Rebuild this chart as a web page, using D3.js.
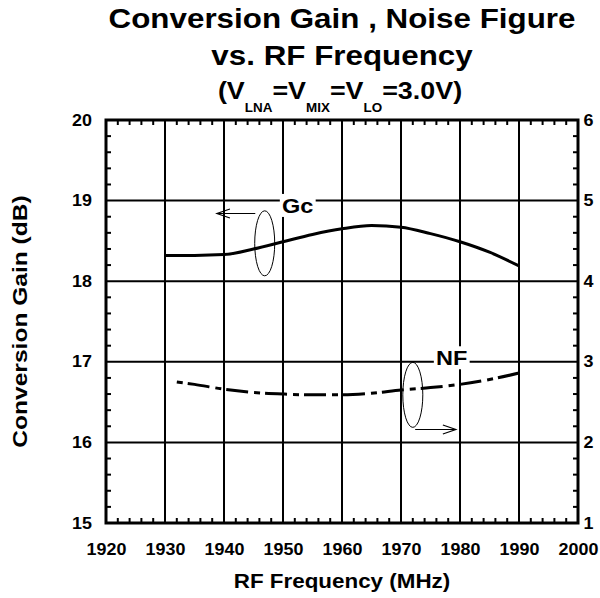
<!DOCTYPE html>
<html>
<head>
<meta charset="utf-8">
<script src="https://cdn.jsdelivr.net/npm/d3@7"></script>
<style>
  html, body { margin: 0; padding: 0; background: #fff; }
  svg { display: block; font-family: "Liberation Sans", Arial, Helvetica, sans-serif; font-weight: bold; }
</style>
</head>
<body>
<svg id="chart" width="600" height="598"></svg>
<script>
// Frequency axis (MHz)
const freqTicks = [1920, 1930, 1940, 1950, 1960, 1970, 1980, 1990, 2000];
// Left axis: conversion gain (dB)
const gainTicks = [15, 16, 17, 18, 19, 20];
// Right axis: noise figure (dB)
const nfTicks = [1, 2, 3, 4, 5, 6];

// Conversion gain curve
const gcFreq   = [1930, 1935, 1940, 1945, 1950, 1955, 1960, 1965, 1970, 1975, 1980, 1985, 1990];
const gcValues = [18.32, 18.32, 18.33, 18.40, 18.49, 18.58, 18.65, 18.69, 18.67, 18.59, 18.49, 18.36, 18.19];

// Noise figure curve
const nfFreq   = [1932, 1935, 1940, 1945, 1950, 1955, 1960, 1965, 1970, 1975, 1980, 1985, 1990];
const nfValues = [2.75, 2.72, 2.66, 2.62, 2.60, 2.59, 2.59, 2.61, 2.65, 2.68, 2.72, 2.78, 2.86];

const svg = d3.select("#chart");
const margin = { top: 120, right: 22, bottom: 75, left: 106 };
const W = 600, H = 598;
const w = W - margin.left - margin.right;
const h = H - margin.top - margin.bottom;
const SX = 1.12;               // horizontal widening applied to all lettering

const x = d3.scaleLinear().domain([1920, 2000]).range([margin.left, margin.left + w]);
const yL = d3.scaleLinear().domain([15, 20]).range([margin.top + h, margin.top]);
const yR = d3.scaleLinear().domain([1, 6]).range([margin.top + h, margin.top]);
const cx = margin.left + w / 2;

// helper: widened text anchored at (tx, ty)
function wideText(parent, tx, ty, size, anchor) {
  return parent.append("text")
    .attr("transform", `translate(${tx},${ty}) scale(${SX},1)`)
    .attr("text-anchor", anchor || "middle")
    .attr("font-size", size);
}

// ---- Title ----
wideText(svg, cx, 28, 28).text("Conversion Gain , Noise Figure");
wideText(svg, cx, 65, 28).text("vs. RF Frequency");
const sub = wideText(svg, cx - 2, 99, 24);
const parts = [["(V", 0], ["LNA", 1], ["=V", 0], ["MIX", 1], ["=V", 0], ["LO", 1], ["=3.0V)", 0]];
let lastSub = 0;
parts.forEach(([t, s]) => {
  sub.append("tspan").attr("dy", (s - lastSub) * 13).attr("font-size", s ? 12 : 24).text(t);
  lastSub = s;
});

// ---- Grid ----
const grid = svg.append("g").attr("stroke", "#000").attr("stroke-width", 2);
grid.selectAll("line.v").data(freqTicks.slice(1, -1)).join("line").attr("class", "v")
  .attr("x1", d => x(d)).attr("x2", d => x(d))
  .attr("y1", margin.top).attr("y2", margin.top + h);
grid.selectAll("line.h").data(gainTicks.slice(1, -1)).join("line").attr("class", "h")
  .attr("x1", margin.left).attr("x2", margin.left + w)
  .attr("y1", d => yL(d)).attr("y2", d => yL(d));

// ---- Minor ticks (inward) ----
const tickLen = 5;
const minorX = d3.range(1920, 2000.1, 2).filter(d => d % 10 !== 0);
const minorY = d3.range(15, 20.01, 0.2).filter(d => Math.abs(d - Math.round(d)) > 0.01);
const minor = svg.append("g").attr("stroke", "#000").attr("stroke-width", 2);
minor.selectAll("line.bx").data(minorX).join("line").attr("class", "bx")
  .attr("x1", d => x(d)).attr("x2", d => x(d))
  .attr("y1", margin.top + h).attr("y2", margin.top + h - tickLen);
minor.selectAll("line.tx").data(minorX).join("line").attr("class", "tx")
  .attr("x1", d => x(d)).attr("x2", d => x(d))
  .attr("y1", margin.top).attr("y2", margin.top + tickLen);
minor.selectAll("line.ly").data(minorY).join("line").attr("class", "ly")
  .attr("x1", margin.left).attr("x2", margin.left + tickLen)
  .attr("y1", d => yL(d)).attr("y2", d => yL(d));
minor.selectAll("line.ry").data(minorY).join("line").attr("class", "ry")
  .attr("x1", margin.left + w).attr("x2", margin.left + w - tickLen)
  .attr("y1", d => yL(d)).attr("y2", d => yL(d));

// ---- Frame ----
svg.append("rect").attr("x", margin.left).attr("y", margin.top)
  .attr("width", w).attr("height", h)
  .attr("fill", "none").attr("stroke", "#000").attr("stroke-width", 3);

// ---- Axis labels ----
function styleTicks(sel) {
  sel.select(".domain").remove();
  sel.selectAll("text")
    .attr("font-size", 16).attr("font-weight", "bold")
    .attr("font-family", "Liberation Sans, Arial, sans-serif").attr("fill", "#000")
    .attr("transform", `scale(${SX},1)`);
}
svg.append("g").attr("transform", `translate(0,${margin.top + h})`)
  .call(d3.axisBottom(x).tickValues(freqTicks).tickSize(0).tickPadding(21).tickFormat(d3.format("d")))
  .call(styleTicks);
svg.append("g").attr("transform", `translate(${margin.left},0)`)
  .call(d3.axisLeft(yL).tickValues(gainTicks).tickSize(0).tickPadding(12.5).tickFormat(d3.format("d")))
  .call(styleTicks);
svg.append("g").attr("transform", `translate(${margin.left + w},0)`)
  .call(d3.axisRight(yR).tickValues(nfTicks).tickSize(0).tickPadding(5).tickFormat(d3.format("d")))
  .call(styleTicks);

wideText(svg, cx, 588, 20).text("RF Frequency (MHz)");
svg.append("text")
  .attr("transform", `translate(27,${margin.top + h / 2}) rotate(-90) scale(1.17,1)`)
  .attr("text-anchor", "middle").attr("font-size", 21).text("Conversion Gain (dB)");

// ---- Curves ----
const gcLine = d3.line().x(d => x(d[0])).y(d => yL(d[1])).curve(d3.curveMonotoneX);
svg.append("path").datum(d3.zip(gcFreq, gcValues))
  .attr("d", gcLine).attr("fill", "none").attr("stroke", "#000").attr("stroke-width", 3);

const nfLine = d3.line().x(d => x(d[0])).y(d => yR(d[1])).curve(d3.curveMonotoneX);
svg.append("path").datum(d3.zip(nfFreq, nfValues))
  .attr("d", nfLine).attr("fill", "none").attr("stroke", "#000").attr("stroke-width", 3)
  .attr("stroke-dasharray", "6 5 22 6");

// ---- Annotations ----
function label(txt, fx, fy, scaleY) {
  const size = 21, cap = 0.716 * size;
  const g = svg.append("g")
    .attr("transform", `translate(${x(fx)},${scaleY(fy)}) scale(${SX},1)`);
  const r = g.append("rect").attr("fill", "#fff");
  const t = g.append("text").attr("text-anchor", "middle").attr("font-size", size)
    .attr("y", cap / 2).text(txt);
  const tw = t.node().getComputedTextLength();
  r.attr("x", -tw / 2 - 2).attr("width", tw + 4).attr("y", -11.5).attr("height", 23);
}
function arrow(f0, f1, v, scaleY) {
  const y0 = scaleY(v), xa = x(f0), xb = x(f1);
  const dir = Math.sign(xb - xa);
  const g = svg.append("g").attr("stroke", "#000").attr("stroke-width", 1.2).attr("fill", "none");
  g.append("line").attr("x1", xa).attr("x2", xb).attr("y1", y0).attr("y2", y0);
  g.append("path").attr("d", `M${xb - dir * 13},${y0 - 4.5} L${xb},${y0} L${xb - dir * 13},${y0 + 4.5}`);
}
function ellipse(f, v, scaleY) {
  svg.append("ellipse").attr("cx", x(f)).attr("cy", scaleY(v))
    .attr("rx", 10).attr("ry", 32.5)
    .attr("fill", "none").attr("stroke", "#000").attr("stroke-width", 1);
}

label("Gc", 1952.5, 18.94, yL);
arrow(1945.3, 1938.8, 18.84, yL);
ellipse(1946.9, 18.47, yL);

label("NF", 1978.6, 3.05, yR);
arrow(1972.4, 1979.3, 2.16, yR);
ellipse(1972.0, 2.59, yR);
</script>
</body>
</html>
